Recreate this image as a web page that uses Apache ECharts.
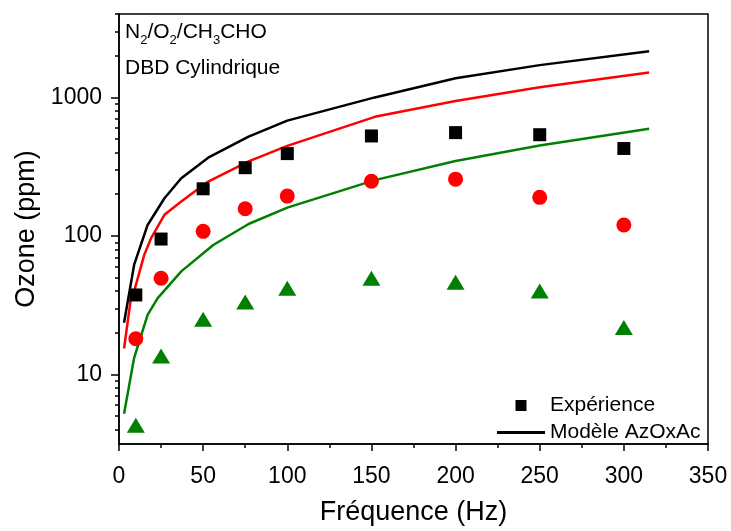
<!DOCTYPE html>
<html><head><meta charset="utf-8">
<script src="https://cdn.jsdelivr.net/npm/echarts@6/dist/echarts.min.js"></script>
<style>html,body{margin:0;padding:0;background:#fff}#c{width:731px;height:531px}</style>
</head><body><div id="c"></div><script>
// Experimental points (x in Hz, ozone in ppm)
const expX = [10, 25, 50, 75, 100, 150, 200, 250, 300];
const expBlack = [37.5, 95, 219, 311, 393, 527, 557, 538, 428];
const expRed = [18.1, 49.5, 108, 157, 194, 248, 257, 190, 120];
const expGreen = [4.3, 13.6, 25, 33.3, 42, 49.5, 46.4, 40, 21.8];
// Model curves
const modelBlackX = [3, 9, 17, 27, 37, 53, 77, 100, 152, 200, 250, 315];
const modelBlack = [23.6, 62, 120, 187, 261, 367, 521, 680, 1000, 1377, 1710, 2150];
const modelRedX = [3, 7, 9, 15, 19, 27, 37, 53, 77, 100, 152, 200, 250, 315];
const modelRed = [15.4, 35, 40, 73, 96, 142, 177, 247, 345, 447, 724, 942, 1186, 1511];
const modelGreenX = [3, 9, 17, 23, 37, 56, 77, 100, 152, 200, 250, 315];
const modelGreen = [5.2, 13.2, 26.9, 35.6, 55.5, 86, 122, 160, 253, 348, 450, 595];
// Axis ticks
const yMajorTicks = [10, 100, 1000];
const yMinorTicks = [4, 5, 6, 7, 8, 9, 20, 30, 40, 50, 60, 70, 80, 90, 200, 300, 400, 500, 600, 700, 800, 900, 2000, 3000, 4000];

const zip = (xs, ys) => xs.map((x, i) => [x, ys[i]]);
const FONT = 'Liberation Sans, Arial, sans-serif';

const chart = echarts.init(document.getElementById('c'), null, {renderer: 'canvas'});
chart.setOption({
  animation: false,
  backgroundColor: '#fff',
  grid: {left: 119, right: 23, top: 14, bottom: 84, show: true, borderColor: '#000', borderWidth: 1.5, backgroundColor: 'transparent'},
  xAxis: {
    type: 'value', min: 0, max: 350, interval: 50,
    axisLine: {lineStyle: {color: '#000', width: 1.5}},
    axisTick: {length: 7, lineStyle: {color: '#000', width: 1.5}},
    minorTick: {show: true, splitNumber: 2, length: 4, lineStyle: {color: '#000', width: 1.5}},
    axisLabel: {fontSize: 23, color: '#000', fontFamily: FONT, margin: 21},
    splitLine: {show: false},
    name: 'Fréquence (Hz)', nameLocation: 'middle', nameGap: 55,
    nameTextStyle: {fontSize: 27, color: '#000', fontFamily: FONT}
  },
  yAxis: [{
    type: 'log', min: 3.15, max: 4000, position: 'left',
    axisLine: {show: true, lineStyle: {color: '#000', width: 1.5}},
    axisTick: {show: true, customValues: yMajorTicks, length: 8, lineStyle: {color: '#000', width: 1.5}},
    axisLabel: {customValues: yMajorTicks, fontSize: 23, color: '#000', fontFamily: FONT, margin: 17, formatter: v => String(v)},
    splitLine: {show: false},
    name: 'Ozone (ppm)', nameLocation: 'middle', nameGap: 76,
    nameTextStyle: {fontSize: 27, color: '#000', fontFamily: FONT}
  }, {
    type: 'log', min: 3.15, max: 4000, position: 'left',
    axisLine: {show: false},
    axisTick: {show: true, customValues: yMinorTicks, length: 4, lineStyle: {color: '#000', width: 1.5}},
    axisLabel: {show: false},
    splitLine: {show: false}
  }],
  legend: {
    orient: 'vertical', left: 492, top: 390, itemWidth: 48, itemHeight: 11, itemGap: 6,
    textStyle: {fontSize: 21, color: '#000', fontFamily: FONT},
    data: [
      {name: 'Expérience', icon: 'path://M0,0h10v10h-10z'},
      {name: 'Modèle AzOxAc', icon: 'path://M0,0h48v3h-48z', itemStyle: {color: '#000'}}
    ],
    selectedMode: false
  },
  graphic: [{
    type: 'text', left: 125, top: 22,
    style: {
      text: '{a|N}{s|2}{a|/O}{s|2}{a|/CH}{s|3}{a|CHO}',
      rich: {
        a: {fontSize: 21, fontFamily: FONT, fill: '#000', lineHeight: 28, verticalAlign: 'middle'},
        s: {fontSize: 13, fontFamily: FONT, fill: '#000', lineHeight: 10, verticalAlign: 'bottom'}
      }
    }
  }, {
    type: 'text', left: 125, top: 58,
    style: {text: 'DBD Cylindrique', fontSize: 21, fontFamily: FONT, fill: '#000'}
  }],
  series: [
    {name: 'Modèle AzOxAc', type: 'line', data: zip(modelBlackX, modelBlack), symbol: 'none', lineStyle: {color: '#000', width: 2.5}, itemStyle: {color: '#000'}, z: 2},
    {name: 'Modèle rouge', type: 'line', data: zip(modelRedX, modelRed), symbol: 'none', lineStyle: {color: '#ff0000', width: 2.5}, itemStyle: {color: '#ff0000'}, z: 2},
    {name: 'Modèle vert', type: 'line', data: zip(modelGreenX, modelGreen), symbol: 'none', lineStyle: {color: '#008000', width: 2.5}, itemStyle: {color: '#008000'}, z: 2},
    {name: 'Expérience', type: 'scatter', data: zip(expX, expBlack), symbol: 'rect', symbolSize: 13, itemStyle: {color: '#000', opacity: 1}, z: 3},
    {name: 'Expérience rouge', type: 'scatter', data: zip(expX, expRed), symbol: 'circle', symbolSize: 15, itemStyle: {color: '#ff0000', opacity: 1}, z: 3},
    {name: 'Expérience vert', type: 'scatter', data: zip(expX, expGreen), symbol: 'triangle', symbolSize: [18, 15], itemStyle: {color: '#008000', opacity: 1}, z: 3}
  ]
});
</script></body></html>
